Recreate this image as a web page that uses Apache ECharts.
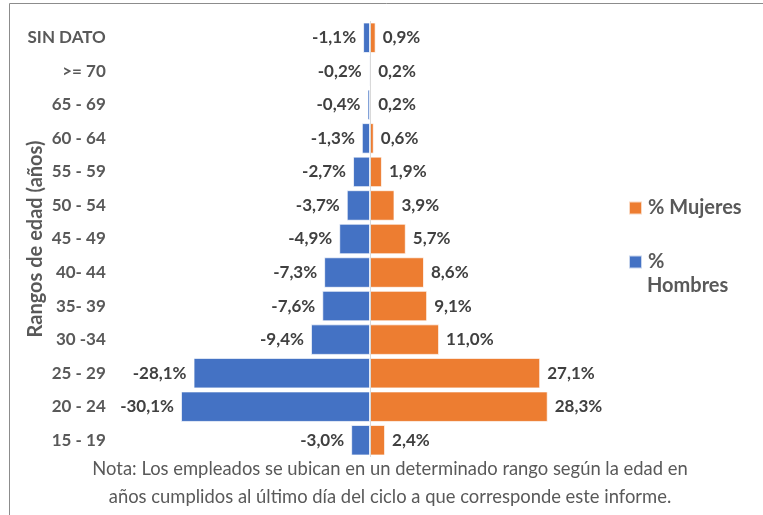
<!DOCTYPE html>
<html>
<head>
<meta charset="utf-8">
<script src="https://cdn.jsdelivr.net/npm/echarts@6/dist/echarts.min.js"></script>
<style>
  html, body { margin: 0; padding: 0; background: #fff; }
  #chart { width: 763px; height: 515px; }
</style>
</head>
<body>
<div id="chart"></div>
<script>
  var rangos = ['SIN DATO', '>= 70', '65 - 69', '60 - 64', '55 - 59', '50 - 54', '45 - 49',
    '40- 44', '35- 39', '30 -34', '25 - 29', '20 - 24', '15 - 19'];
  var hombres = [-1.1, -0.2, -0.4, -1.3, -2.7, -3.7, -4.9, -7.3, -7.6, -9.4, -28.1, -30.1, -3.0];
  var mujeres = [0.9, 0.2, 0.2, 0.6, 1.9, 3.9, 5.7, 8.6, 9.1, 11.0, 27.1, 28.3, 2.4];
  var nota = 'Nota: Los empleados se ubican en un determinado rango según la edad en\naños cumplidos al último día del ciclo a que corresponde este informe.';

  var fuente = 'Lato, "Open Sans", sans-serif';
  function pct(p) {
    return p.value.toFixed(1).replace('.', ',') + '%';
  }

  var chart = echarts.init(document.getElementById('chart'));
  chart.setOption({
    animation: false,
    textStyle: { fontFamily: fuente },
    graphic: [{
      type: 'rect',
      shape: { x: 9.5, y: 3.5, width: 800, height: 600 },
      style: { fill: 'none', stroke: '#8c8c8c', lineWidth: 1 }
    }, {
      // second line of the wrapped legend entry "% Hombres"
      type: 'text',
      left: 647,
      top: 276,
      style: { text: 'Hombres', fontSize: 20, fontWeight: 'bold', fill: '#595959', fontFamily: fuente }
    }],
    title: {
      text: nota,
      left: 385,
      top: 450,
      textAlign: 'center',
      textStyle: { fontSize: 18.4, fontWeight: 'normal', color: '#595959', lineHeight: 28, fontFamily: fuente }
    },
    legend: {
      orient: 'vertical',
      left: 628,
      top: 198,
      padding: 0,
      itemWidth: 13,
      itemHeight: 13,
      itemGap: 34,
      icon: 'rect',
      data: ['% Mujeres', '% Hombres'],
      formatter: function (n) { return n === '% Hombres' ? '%' : n; },
      textStyle: { fontSize: 20, fontWeight: 'bold', color: '#595959', padding: [0, 0, 0, 1], fontFamily: fuente }
    },
    grid: { left: 118.8, right: 763 - 621.2, top: 21, bottom: 515 - 457, outerBoundsMode: 'none' },
    xAxis: {
      type: 'value',
      min: -40,
      max: 40,
      show: false
    },
    yAxis: {
      type: 'category',
      data: rangos,
      inverse: true,
      name: 'Rangos de edad (años)',
      nameLocation: 'middle',
      nameGap: 73,
      nameMoveOverlap: false,
      nameTextStyle: { fontSize: 20, fontWeight: 'bold', color: '#595959', fontFamily: fuente },
      axisLine: { show: false },
      axisTick: { show: false },
      axisLabel: { fontSize: 17, fontWeight: 'bold', color: '#595959', margin: 13, fontFamily: fuente }
    },
    series: [{
      name: '% Hombres',
      type: 'bar',
      data: hombres,
      barGap: '-100%',
      barCategoryGap: '9%',
      itemStyle: { color: '#4472C4', borderColor: 'rgba(255,255,255,0.7)', borderWidth: 1 },
      label: { show: true, position: 'left', distance: 7, formatter: pct,
        fontSize: 17, fontWeight: 'bold', color: '#404040', fontFamily: fuente },
      markLine: {
        silent: true,
        symbol: 'none',
        label: { show: false },
        lineStyle: { color: '#d9d9d9', type: 'solid', width: 1 },
        data: [{ xAxis: 0 }]
      }
    }, {
      name: '% Mujeres',
      type: 'bar',
      data: mujeres,
      itemStyle: { color: '#ED7D31', borderColor: 'rgba(255,255,255,0.7)', borderWidth: 1 },
      label: { show: true, position: 'right', distance: 7, formatter: pct,
        fontSize: 17, fontWeight: 'bold', color: '#404040', fontFamily: fuente }
    }]
  });
</script>
</body>
</html>
